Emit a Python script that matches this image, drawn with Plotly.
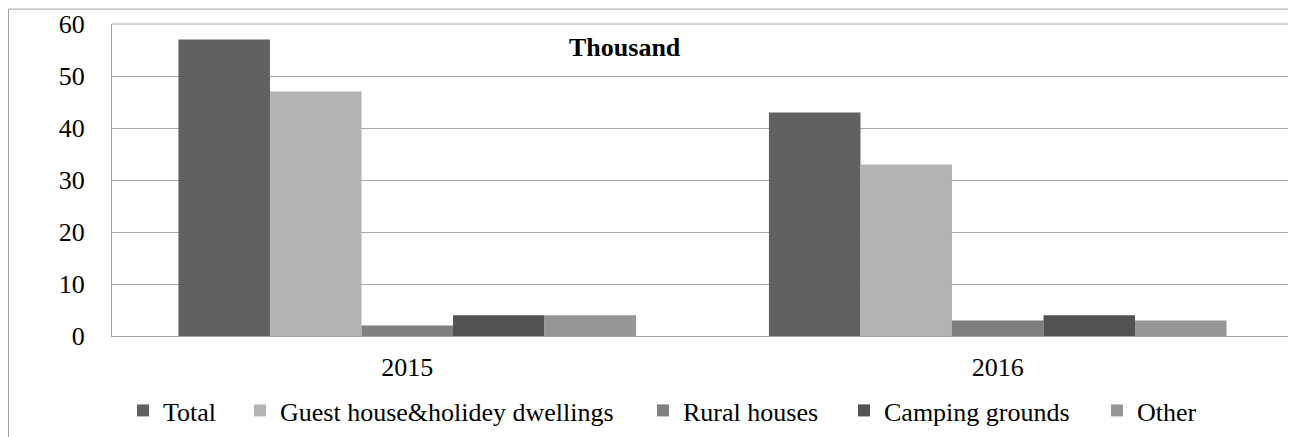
import plotly.graph_objects as go

years = ["2015", "2016"]
series_names = ["Total", "Guest house&holidey dwellings", "Rural houses", "Camping grounds", "Other"]
total = [57, 43]
guest = [47, 33]
rural = [2, 3]
camping = [4, 4]
other = [4, 3]
colors = ["#616161", "#b3b3b3", "#7f7f7f", "#525252", "#969696"]

# layout geometry (figure pixel coordinates)
W, H = 1288, 429
L, R, T, B = 104, 3, 16, 99
PW = W - L - R
PH = H - T - B

def px(x):
    return (x - L) / PW

def py(y):
    return (H - B - y) / PH

font = "Liberation Serif"
FS = 26

legend_text_x = [155, 272, 675, 876, 1129]
legend_keys = ["legend", "legend2", "legend3", "legend4", "legend5"]

fig = go.Figure()
for name, vals, c, lk in zip(series_names, [total, guest, rural, camping, other], colors, legend_keys):
    fig.add_trace(go.Bar(x=years, y=vals, name=name, legend=lk,
                         marker=dict(color=c, line=dict(width=0))))

legends = {}
for lk, tx in zip(legend_keys, legend_text_x):
    legends[lk] = dict(x=px(tx - 40), xanchor="left", y=py(405), yanchor="middle",
                       orientation="h", bgcolor="rgba(0,0,0,0)",
                       font=dict(family=font, size=FS, color="black"))

fig.update_layout(
    width=W, height=H,
    margin=dict(l=L, r=R, t=T, b=B),
    paper_bgcolor="white", plot_bgcolor="white",
    barmode="group", bargap=0.225, bargroupgap=0,
    font=dict(family=font, size=FS, color="black"),
    showlegend=True,
    xaxis=dict(showgrid=False, showline=True, linecolor="#a0a0a0", linewidth=1,
               ticks="", tickfont=dict(family=font, size=FS), ticklabelstandoff=8),
    yaxis=dict(range=[0, 60], dtick=10, showgrid=True, gridcolor="#a6a6a6", gridwidth=1,
               showline=True, linecolor="#a0a0a0", linewidth=1, zeroline=False,
               ticks="", tickfont=dict(family=font, size=FS), ticklabelstandoff=21),
    annotations=[dict(text="<b>Thousand</b>", x=px(617), y=py(40),
                      xref="paper", yref="paper", xanchor="center", yanchor="middle",
                      showarrow=False,
                      font=dict(family=font, size=FS, color="black"))],
    shapes=[dict(type="rect", xref="paper", yref="paper",
                 x0=px(0.5), x1=px(W + 50), y0=py(H + 50), y1=py(1),
                 line=dict(color="#a0a0a0", width=1), fillcolor="rgba(0,0,0,0)", layer="below"),
            dict(type="line", xref="paper", yref="paper", x0=0, x1=1, y0=1, y1=1,
                 line=dict(color="#a6a6a6", width=1))],
    **legends,
)

fig.write_html("out.html")
